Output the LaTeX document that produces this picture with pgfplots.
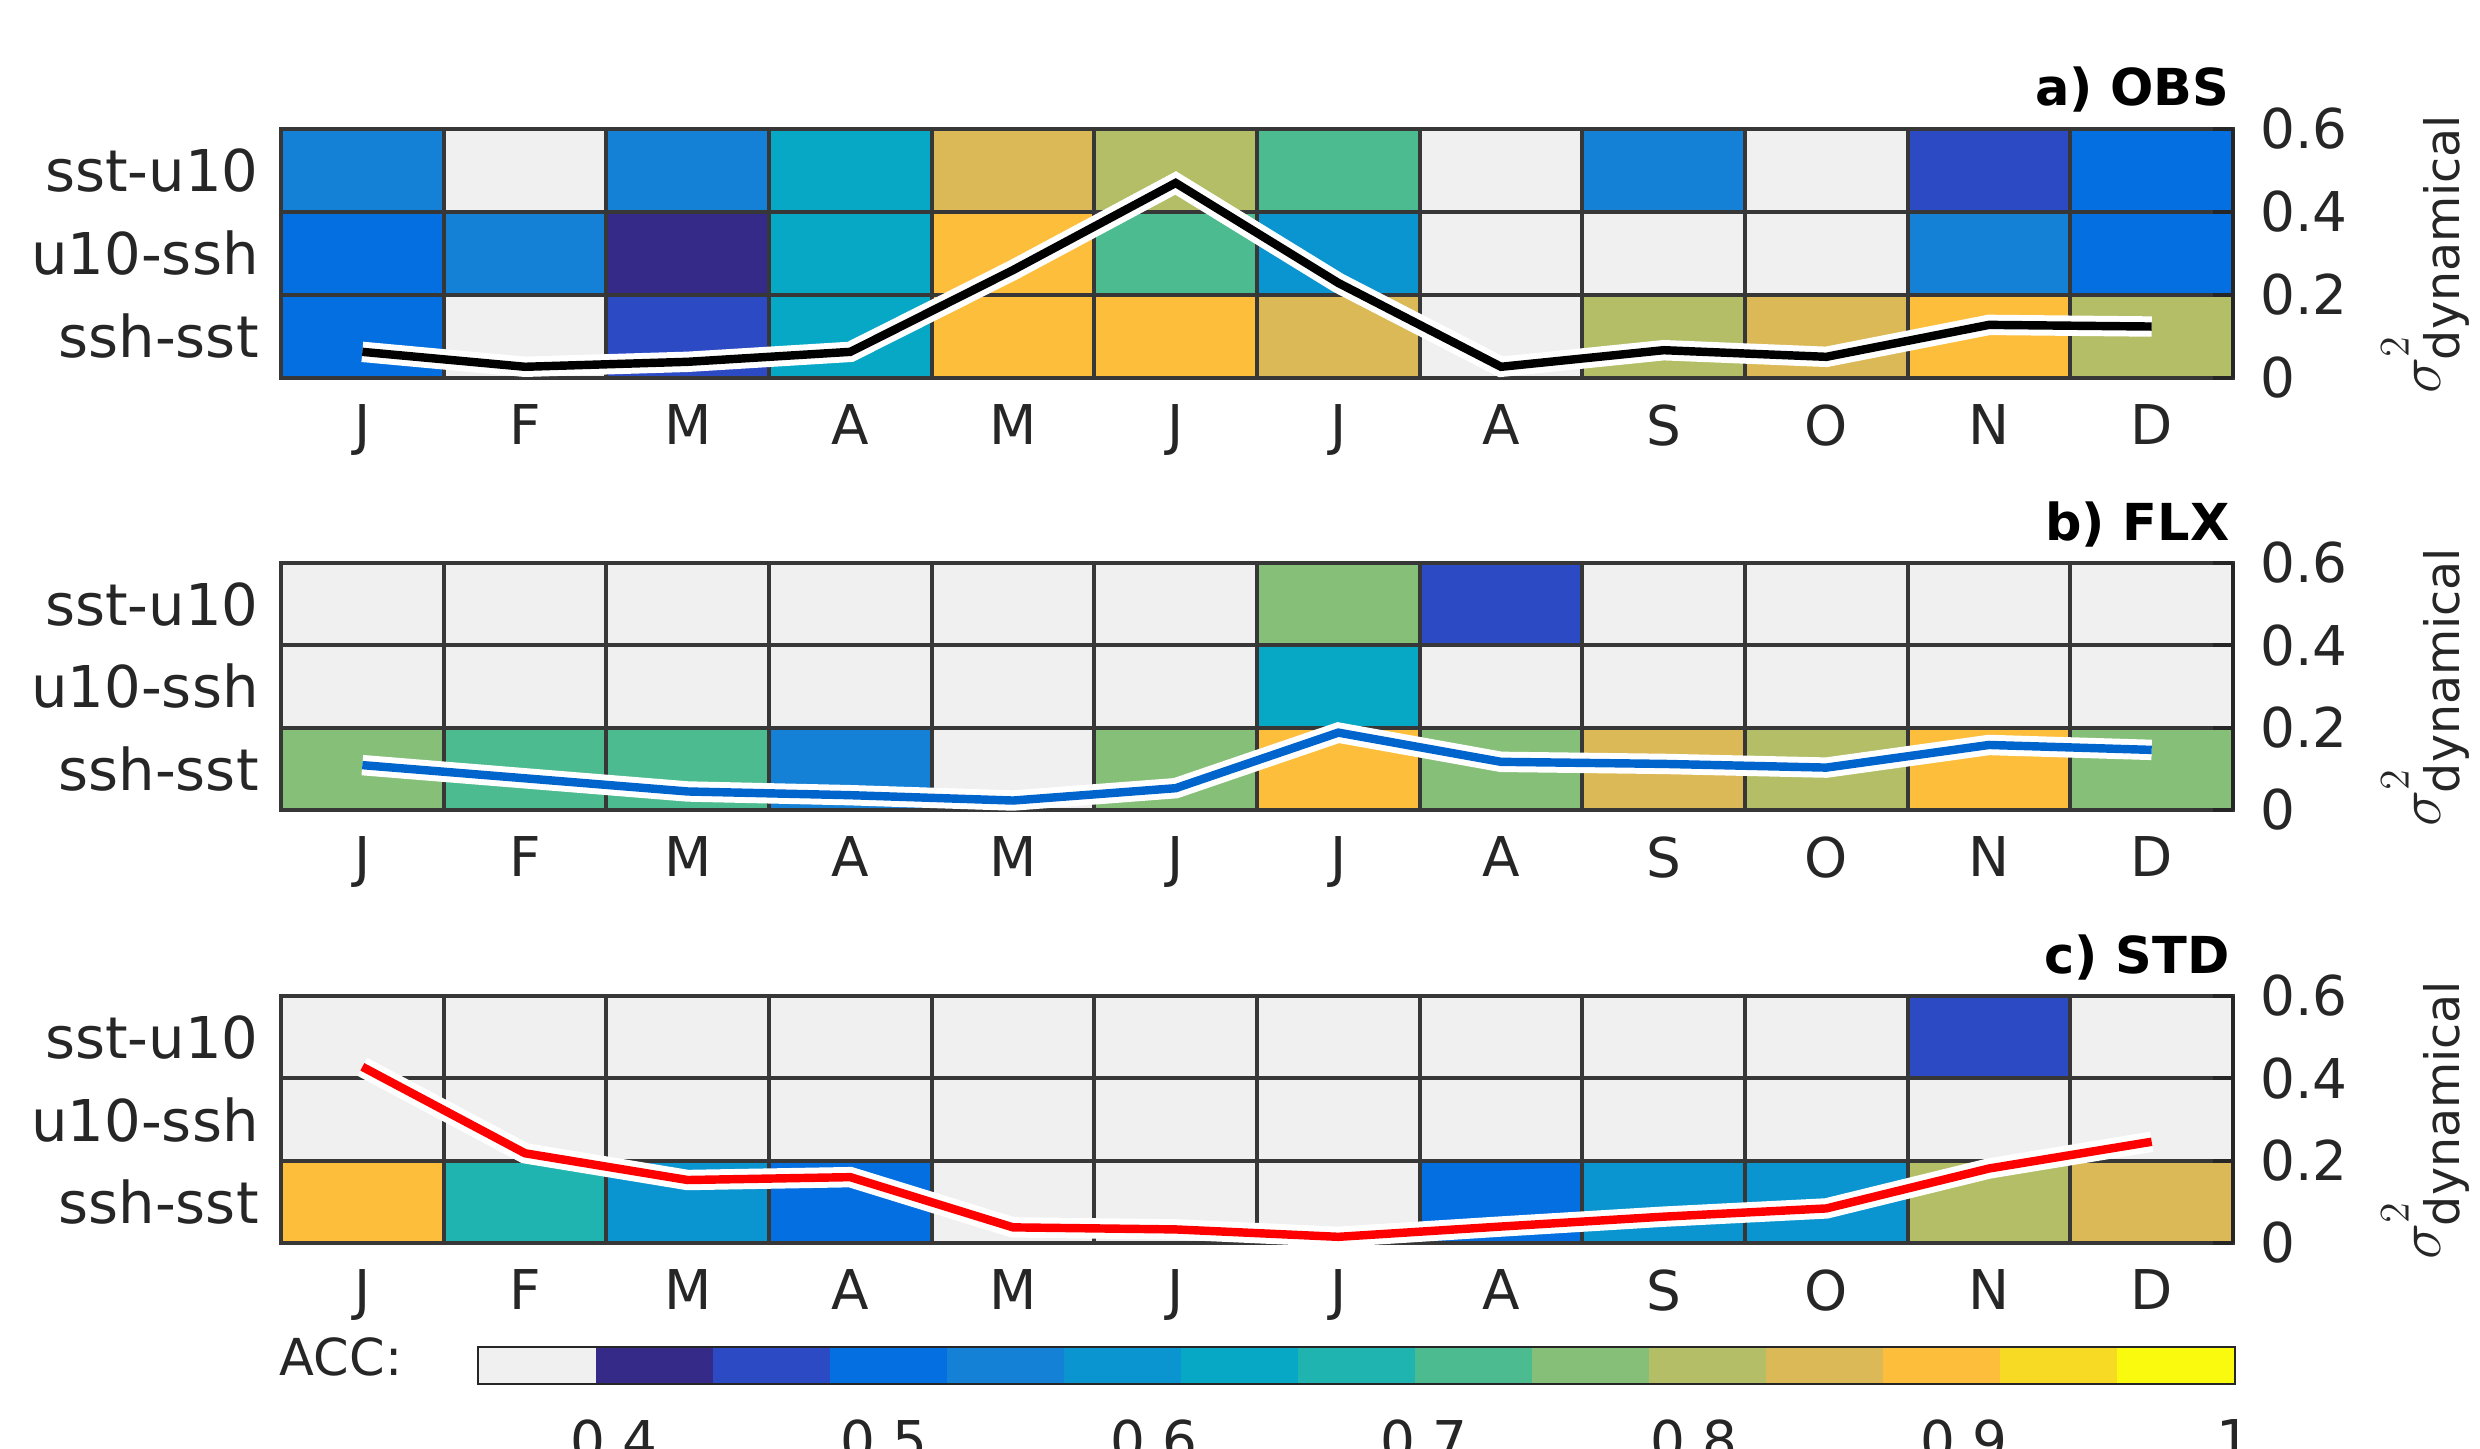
\documentclass[border=0pt]{standalone}
\usepackage{fontspec}
\setmainfont{DejaVu Sans}
\usepackage{pgfplots}
\pgfplotsset{compat=1.18}
\newcommand\lblfont{\fontsize{15.6}{18}\selectfont}
\newcommand\ylblfont{\fontsize{16.4}{19}\selectfont}
\newcommand\subfont{\fontsize{13.5}{16}\selectfont}
\definecolor{axisgray}{RGB}{38,38,38}
\definecolor{gridgray}{RGB}{55,55,55}
\definecolor{lineblue}{RGB}{0,100,205}
\pgfdeclareplotmark{cellA}{\pgfpathrectangle{\pgfpoint{-0.81333cm}{-0.415cm}}{\pgfpoint{1.62667cm}{0.83cm}}\pgfusepathqfillstroke}
\pgfdeclareplotmark{cellB}{\pgfpathrectangle{\pgfpoint{-0.81333cm}{-0.41167cm}}{\pgfpoint{1.62667cm}{0.82333cm}}\pgfusepathqfillstroke}
\pgfdeclareplotmark{cellC}{\pgfpathrectangle{\pgfpoint{-0.585cm}{-0.175cm}}{\pgfpoint{1.17cm}{0.35cm}}\pgfusepathqfill}
\tikzset{siglbl/.style={rotate=90, anchor=base, font=\fontsize{18}{20}\selectfont, text=black!85}}
\pgfplotsset{
  colormap={acc}{rgb255=(240,240,240) rgb255=(53,42,135) rgb255=(45,74,197) rgb255=(3,111,224)
    rgb255=(20,128,214) rgb255=(11,149,208) rgb255=(7,168,198) rgb255=(31,180,175)
    rgb255=(76,187,143) rgb255=(134,192,120) rgb255=(180,190,102) rgb255=(220,185,87)
    rgb255=(253,190,60) rgb255=(246,218,35) rgb255=(249,250,14)},
  /pgf/number format/assume math mode=true,
  myheat/.style={
    scale only axis, width=19.52cm, height=#1,
    xmin=-0.5, xmax=11.5, ymin=-0.5, ymax=2.5,
    xtick={0,...,11}, xticklabels={J,F,M,A,M,J,J,A,S,O,N,D},
    ytick={0,1,2}, yticklabels={ssh-sst,u10-ssh,sst-u10},
    tick align=inside, xtick pos=left, ytick pos=left,
    major tick length=0.2cm,
    colormap name=acc, colormap access=piecewise constant,
    point meta min=0.35, point meta max=1,
    axis line style={draw=axisgray, line width=1.3pt},
    tick style={draw=axisgray, line width=1.1pt},
    axis on top,
    tick label style={font=\lblfont, text=black!85},
    xticklabel style={yshift=-0.14cm},
    yticklabel style={xshift=-0.1cm, font=\ylblfont},
    anchor=south west,
  },
  myline/.style={
    scale only axis, width=19.52cm, height=#1,
    xmin=-0.5, xmax=11.5, ymin=0, ymax=0.6,
    axis y line*=right, axis x line=none,
    ytick={0,0.2,0.4,0.6}, tick align=inside, major tick length=0.2cm,
    tick style={draw=axisgray, line width=1.1pt},
    axis line style={draw=axisgray, line width=1.3pt},
    tick label style={font=\lblfont, text=black!85},
    yticklabel style={xshift=0.15cm},
    clip=false, anchor=south west,
  },
  mycells/.style={scatter, only marks, mark=#1, point meta=explicit,
    scatter/use mapped color={draw=gridgray, fill=mapped color}, line width=1.1pt},
  whiteline/.style={white, line width=5.8pt, mark=none},
  colline/.style={#1, line width=2.4pt, mark=none},
}
\newcommand\sigmalabel{$\sigma^{\raisebox{0.15em}{$\scriptstyle 2$}}_{\hbox{\subfont dynamical}}$}
\begin{document}
\begin{tikzpicture}
\useasboundingbox (0,0) rectangle (24.8,14.48);

% ---------------- panel a ----------------
\begin{axis}[myheat=2.49cm, at={(2.81cm,10.70cm)}]
\addplot[mycells=cellA] table[meta=c]{
x y c
0 0 0.502
1 0 0.372
2 0 0.458
3 0 0.632
4 0 0.892
5 0 0.892
6 0 0.848
7 0 0.372
8 0 0.805
9 0 0.848
10 0 0.892
11 0 0.805
0 1 0.502
1 1 0.545
2 1 0.415
3 1 0.632
4 1 0.892
5 1 0.718
6 1 0.588
7 1 0.372
8 1 0.372
9 1 0.372
10 1 0.545
11 1 0.502
0 2 0.545
1 2 0.372
2 2 0.545
3 2 0.632
4 2 0.848
5 2 0.805
6 2 0.718
7 2 0.372
8 2 0.545
9 2 0.372
10 2 0.458
11 2 0.502
};
\end{axis}
\begin{axis}[myline=2.49cm, at={(2.81cm,10.70cm)}]
\addplot[whiteline] coordinates {(0,0.063) (1,0.027) (2,0.039) (3,0.063) (4,0.26) (5,0.47) (6,0.229) (7,0.027) (8,0.067) (9,0.051) (10,0.128) (11,0.124)};
\addplot[colline=black] coordinates {(0,0.063) (1,0.027) (2,0.039) (3,0.063) (4,0.26) (5,0.47) (6,0.229) (7,0.027) (8,0.067) (9,0.051) (10,0.128) (11,0.124)};
\end{axis}
\node[anchor=base east, inner sep=0pt, font=\fontsize{14.5}{16}\selectfont\bfseries] at (22.30,13.42) {a) OBS};
\node[siglbl] at (24.40,11.945) {\sigmalabel};

% ---------------- panel b ----------------
\begin{axis}[myheat=2.47cm, at={(2.81cm,6.38cm)}]
\addplot[mycells=cellB] table[meta=c]{
x y c
0 0 0.762
1 0 0.718
2 0 0.718
3 0 0.545
4 0 0.372
5 0 0.762
6 0 0.892
7 0 0.762
8 0 0.848
9 0 0.805
10 0 0.892
11 0 0.762
0 1 0.372
1 1 0.372
2 1 0.372
3 1 0.372
4 1 0.372
5 1 0.372
6 1 0.632
7 1 0.372
8 1 0.372
9 1 0.372
10 1 0.372
11 1 0.372
0 2 0.372
1 2 0.372
2 2 0.372
3 2 0.372
4 2 0.372
5 2 0.372
6 2 0.762
7 2 0.458
8 2 0.372
9 2 0.372
10 2 0.372
11 2 0.372
};
\end{axis}
\begin{axis}[myline=2.47cm, at={(2.81cm,6.38cm)}]
\addplot[whiteline] coordinates {(0,0.109) (1,0.077) (2,0.045) (3,0.036) (4,0.023) (5,0.053) (6,0.188) (7,0.117) (8,0.112) (9,0.103) (10,0.158) (11,0.146)};
\addplot[colline=lineblue] coordinates {(0,0.109) (1,0.077) (2,0.045) (3,0.036) (4,0.023) (5,0.053) (6,0.188) (7,0.117) (8,0.112) (9,0.103) (10,0.158) (11,0.146)};
\end{axis}
\node[anchor=base east, inner sep=0pt, font=\fontsize{14.5}{16}\selectfont\bfseries] at (22.30,9.08) {b) FLX};
\node[siglbl] at (24.40,7.615) {\sigmalabel};

% ---------------- panel c ----------------
\begin{axis}[myheat=2.47cm, at={(2.81cm,2.05cm)}]
\addplot[mycells=cellB] table[meta=c]{
x y c
0 0 0.892
1 0 0.675
2 0 0.588
3 0 0.502
4 0 0.372
5 0 0.372
6 0 0.372
7 0 0.502
8 0 0.588
9 0 0.588
10 0 0.805
11 0 0.848
0 1 0.372
1 1 0.372
2 1 0.372
3 1 0.372
4 1 0.372
5 1 0.372
6 1 0.372
7 1 0.372
8 1 0.372
9 1 0.372
10 1 0.372
11 1 0.372
0 2 0.372
1 2 0.372
2 2 0.372
3 2 0.372
4 2 0.372
5 2 0.372
6 2 0.372
7 2 0.372
8 2 0.372
9 2 0.372
10 2 0.458
11 2 0.372
};
\end{axis}
\begin{axis}[myline=2.47cm, at={(2.81cm,2.05cm)}]
\addplot[whiteline] coordinates {(0,0.428) (1,0.218) (2,0.153) (3,0.160) (4,0.038) (5,0.033) (6,0.015) (7,0.040) (8,0.064) (9,0.084) (10,0.181) (11,0.246)};
\addplot[colline=red] coordinates {(0,0.428) (1,0.218) (2,0.153) (3,0.160) (4,0.038) (5,0.033) (6,0.015) (7,0.040) (8,0.064) (9,0.084) (10,0.181) (11,0.246)};
\end{axis}
\node[anchor=base east, inner sep=0pt, font=\fontsize{14.5}{16}\selectfont\bfseries] at (22.30,4.75) {c) STD};
\node[siglbl] at (24.40,3.285) {\sigmalabel};

% ---------------- colorbar ----------------
\begin{axis}[scale only axis, at={(4.79cm,0.65cm)}, anchor=south west,
  width=17.55cm, height=0.35cm,
  xmin=0.35, xmax=1, ymin=0, ymax=1, ytick=\empty,
  xtick={0.4,0.5,0.6,0.7,0.8,0.9,1},
  xtick pos=left, tick align=inside, major tick length=0.18cm,
  colormap name=acc, colormap access=piecewise constant,
  point meta min=0.35, point meta max=1, axis on top,
  axis line style={draw=axisgray, line width=1.3pt},
  tick style={draw=axisgray, line width=1.1pt},
  tick label style={font=\lblfont, text=black!85}, xticklabel style={yshift=-0.24cm}]
\addplot[scatter, only marks, mark=cellC, point meta=x,
  scatter/use mapped color={draw=none, fill=mapped color}] table{
x y
0.37167 0.5
0.41500 0.5
0.45833 0.5
0.50167 0.5
0.54500 0.5
0.58833 0.5
0.63167 0.5
0.67500 0.5
0.71833 0.5
0.76167 0.5
0.80500 0.5
0.84833 0.5
0.89167 0.5
0.93500 0.5
0.97833 0.5
};
\end{axis}
\node[anchor=east, inner sep=0pt, font=\fontsize{14.5}{17}\selectfont, text=black!85] at (4.03,0.91) {ACC:};
\end{tikzpicture}
\end{document}
